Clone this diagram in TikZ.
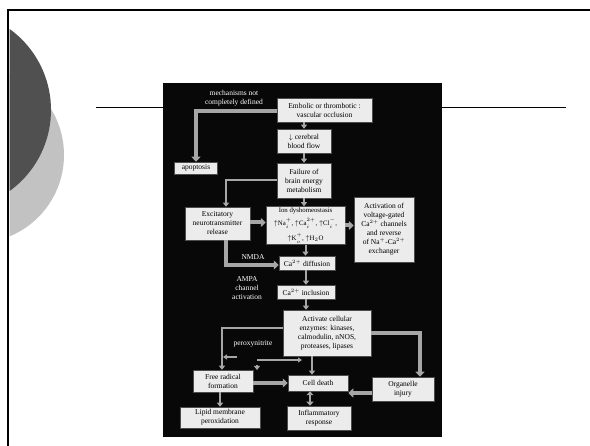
\documentclass[tikz,border=0pt]{standalone}
\usepackage{fontspec}
\setmainfont{Liberation Serif}
\usetikzlibrary{arrows.meta}
\definecolor{boxgray}{HTML}{ECECEC}
\definecolor{arrgray}{HTML}{A6A6A6}
\definecolor{darkcirc}{HTML}{505050}
\definecolor{lightcirc}{HTML}{C2C2C2}
\definecolor{panel}{HTML}{080808}
\newcommand\boxfont{\fontsize{7.5}{9}\selectfont}
\newcommand\ionfont{\fontsize{6.8}{7.5}\selectfont}
\newcommand\ionsc[2]{$^{\raisebox{1.2pt}{$\scriptstyle #2$}}_{\raisebox{-0.8pt}{$\scriptstyle #1$}}$}
\begin{document}
\begin{tikzpicture}[x=1pt,y=-1pt,
  box/.style={draw=black!70, fill=boxgray, line width=0.5pt, inner sep=0pt, align=center, font=\boxfont, text=black},
  lbl/.style={inner sep=0pt, align=center, font=\boxfont, text=white},
  thickarr/.style={draw=arrgray, line width=4pt, -{Triangle[length=5pt,width=9pt]}},
  thinarr/.style={draw=arrgray, line width=2pt, -{Triangle[length=4pt,width=6pt]}},
  smallarr/.style={draw=arrgray, line width=1.5pt, -{Triangle[length=4pt,width=5pt]}},
  dblarr/.style={draw=arrgray, line width=2.5pt, {Triangle[length=4pt,width=7pt]}-{Triangle[length=4pt,width=7pt]}}]
\useasboundingbox (0,0) rectangle (590,446);
\fill[white] (0,0) rectangle (590,446);
% decorative circles
\begin{scope}
\clip (9.5,11.5) rectangle (590,446);
\fill[lightcirc] (-24,155) circle (88);
\fill[darkcirc] (-49,110) circle (100);
\end{scope}
% slide frame
\draw[black, line width=2.5pt] (8,446) -- (8,10) -- (590,10);
% title rule
\draw[black, line width=1pt] (96,108) -- (566,108);
% image panel
\fill[panel] (163,83) rectangle (442,437);

% nodes
\node[lbl] (mech) at (234,98) {mechanisms not\\completely defined};
\node[box, minimum width=95pt, minimum height=24pt] (embolic) at (324.5,110) {Embolic or thrombotic :\\vascular occlusion};
\node[box, minimum width=54pt, minimum height=24pt] (cbf) at (304,141) {$\downarrow$ cerebral\\blood flow};
\node[box, minimum width=43pt, minimum height=12pt] (apop) at (196,168) {apoptosis};
\node[box, minimum width=54pt, minimum height=35pt] (fail) at (304,180.5) {Failure of\\brain energy\\metabolism};
\node[box, minimum width=65pt, minimum height=33pt] (excit) at (217.5,223.5) {Excitatory\\neurotransmitter\\release};
\node[box, minimum width=79pt, minimum height=38pt, font=\ionfont] (ion) at (305.5,225.5) {Ion dyshomeostasis\\[3pt]$\uparrow$Na\ionsc{i}{+}, $\uparrow$Ca\ionsc{i}{2+}, $\uparrow$Cl\ionsc{i}{-},\\[4pt]$\uparrow$K\ionsc{o}{+}, $\uparrow$H$_2$O};
\node[box, minimum width=60pt, minimum height=65pt] (activ) at (384,229.5) {Activation of\\voltage-gated\\Ca$^{2+}$ channels\\and reverse\\of Na$^+$-Ca$^{2+}$\\exchanger};
\node[lbl] (nmda) at (253,257) {NMDA};
\node[box, minimum width=56pt, minimum height=14pt] (cadiff) at (307,263) {Ca$^{2+}$ diffusion};
\node[lbl] (ampa) at (247,288) {AMPA\\channel\\activation};
\node[box, minimum width=58pt, minimum height=14pt] (cainc) at (306,292) {Ca$^{2+}$ inclusion};
\node[box, minimum width=88pt, minimum height=46pt] (enz) at (327,333) {Activate cellular\\enzymes: kinases,\\calmodulin, nNOS,\\proteases, lipases};
\node[lbl] (perox) at (253,344) {peroxynitrite};
\node[box, minimum width=60pt, minimum height=22pt] (frad) at (223,381) {Free radical\\formation};
\node[box, minimum width=60pt, minimum height=16pt] (death) at (318,383) {Cell death};
\node[box, minimum width=62pt, minimum height=24pt] (organ) at (403,389) {Organelle\\injury};
\node[box, minimum width=80pt, minimum height=21pt] (lipid) at (220,417.5) {Lipid membrane\\peroxidation};
\node[box, minimum width=64pt, minimum height=24pt] (inflam) at (319,418) {Inflammatory\\response};

% coordinates for free arrows
\coordinate (pa1) at (237,357);
\coordinate (pa2) at (223,357);
\coordinate (pb1) at (257,360);
\coordinate (pb2) at (302,360);
\coordinate (pc1) at (257,365);
\coordinate (pc2) at (257,370);

% connectors
\draw[thickarr] ([yshift=-1pt]embolic.west) -| (apop.north);
\draw[thinarr] (cbf.north |- embolic.south) -- (cbf.north);
\draw[thinarr] (cbf.south) -- (fail.north);
\draw[thinarr] (fail.west) -| ([xshift=8.5pt]excit.north);
\draw[thinarr] (fail.south) -- (fail.south |- ion.north);
\draw[thickarr] ([yshift=1pt]excit.east) -- ([yshift=1pt]excit.east -| ion.west);
\draw[thickarr] (ion.east) -- (ion.east -| activ.west);
\draw[thickarr] ([xshift=8.5pt]excit.south) |- ([yshift=-2pt]cadiff.west);
\draw[thinarr] (ion.south) -- (ion.south |- cadiff.north);
\draw[thinarr] (cadiff.south -| cainc.north) -- (cainc.north);
\draw[thinarr] (cainc.south) -- (cainc.south |- enz.north);
\draw[thinarr] ([yshift=5pt]enz.west) -| ([xshift=-1pt]frad.north);
\draw[thickarr] (enz.east) -| ([xshift=17pt]organ.north);
\draw[thinarr] ([xshift=-15pt]enz.south) -- ([xshift=-15pt]enz.south |- death.north);
\draw[thickarr] ([yshift=-2pt]frad.east) -- ([yshift=-2pt]frad.east -| death.west);
\draw[thickarr] ([yshift=-4pt]organ.west) -- ([yshift=-4pt]organ.west -| death.east);
\draw[thinarr] ([xshift=-3pt]frad.south) -- ([xshift=-3pt]frad.south |- lipid.north);
\draw[dblarr] ([xshift=-8pt]death.south) -- ([xshift=-8pt]death.south |- inflam.north);
\draw[smallarr] (pa1) -- (pa2);
\draw[smallarr] (pb1) -- (pb2);
\draw[draw=arrgray, line width=1.5pt, -{Triangle[length=4pt,width=6pt]}] (pc1) -- (pc2);
\end{tikzpicture}
\end{document}
